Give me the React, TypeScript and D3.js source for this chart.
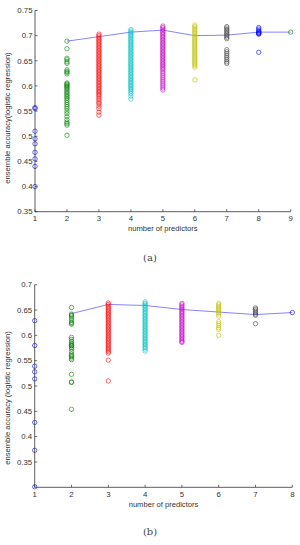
import * as d3 from "d3"

// MATLAB default colour order, reused per number of predictors
const colorOrder = ["#0000ff", "#008000", "#ff0000", "#00bfbf", "#bf00bf", "#bfbf00", "#404040"]

// ---- panel (a): 9 predictors ----
const aAcc1 = [0.557, 0.555, 0.51, 0.495, 0.485, 0.468, 0.455, 0.44, 0.4]
const aAcc2 = [
  0.689, 0.674, 0.655, 0.652, 0.648, 0.645, 0.632, 0.629, 0.627, 0.624, 0.606, 0.604, 0.602, 0.6,
  0.598, 0.596, 0.593, 0.59, 0.587, 0.584, 0.581, 0.578, 0.575, 0.571, 0.567, 0.563, 0.559, 0.555,
  0.55, 0.545, 0.539, 0.533, 0.528, 0.525, 0.522, 0.502,
]
const aAcc3 = [
  0.703, 0.7, 0.697, 0.694, 0.691, 0.688, 0.685, 0.682, 0.679, 0.676, 0.673, 0.67, 0.667, 0.664,
  0.661, 0.658, 0.655, 0.652, 0.649, 0.646, 0.643, 0.64, 0.637, 0.634, 0.631, 0.628, 0.625, 0.622,
  0.619, 0.616, 0.613, 0.61, 0.607, 0.604, 0.601, 0.598, 0.595, 0.592, 0.589, 0.586, 0.583, 0.58,
  0.576, 0.572, 0.568, 0.565, 0.56, 0.555, 0.548, 0.542,
]
const aAcc4 = [
  0.712, 0.709, 0.706, 0.703, 0.7, 0.697, 0.694, 0.691, 0.688, 0.685, 0.682, 0.679, 0.676, 0.673,
  0.67, 0.667, 0.664, 0.661, 0.658, 0.655, 0.652, 0.649, 0.646, 0.643, 0.64, 0.637, 0.634, 0.631,
  0.628, 0.625, 0.622, 0.619, 0.616, 0.613, 0.61, 0.607, 0.604, 0.601, 0.598, 0.595, 0.592, 0.589,
  0.585, 0.58, 0.574,
]
const aAcc5 = [
  0.719, 0.716, 0.713, 0.71, 0.707, 0.704, 0.701, 0.698, 0.695, 0.692, 0.689, 0.686, 0.683, 0.68,
  0.677, 0.674, 0.671, 0.668, 0.665, 0.662, 0.659, 0.656, 0.653, 0.65, 0.647, 0.644, 0.641, 0.638,
  0.635, 0.632, 0.628, 0.624, 0.62, 0.616, 0.612, 0.608, 0.604, 0.6, 0.596, 0.592,
]
const aAcc6 = [
  0.721, 0.718, 0.715, 0.712, 0.709, 0.706, 0.703, 0.7, 0.697, 0.694, 0.691, 0.688, 0.685, 0.682,
  0.679, 0.676, 0.673, 0.67, 0.667, 0.664, 0.661, 0.658, 0.655, 0.652, 0.649, 0.646, 0.643, 0.64,
  0.637, 0.612,
]
const aAcc7 = [
  0.718, 0.715, 0.712, 0.709, 0.706, 0.703, 0.7, 0.697, 0.694, 0.672, 0.668, 0.664, 0.66, 0.656,
  0.652, 0.648, 0.645,
]
const aAcc8 = [0.716, 0.713, 0.71, 0.708, 0.706, 0.705, 0.704, 0.703, 0.667]
const aAcc9 = [0.707]
const aBest = [0.689, 0.698, 0.707, 0.711, 0.7, 0.701, 0.707, 0.707] // k = 2..9

// ---- panel (b): 8 predictors ----
const bAcc1 = [0.629, 0.58, 0.539, 0.528, 0.514, 0.428, 0.373, 0.301]
const bAcc2 = [
  0.655, 0.642, 0.64, 0.638, 0.634, 0.63, 0.626, 0.624, 0.622, 0.596, 0.592, 0.588, 0.585, 0.582,
  0.58, 0.579, 0.576, 0.573, 0.568, 0.563, 0.56, 0.558, 0.555, 0.552, 0.523, 0.508, 0.507, 0.454,
]
const bAcc3 = [
  0.664, 0.661, 0.658, 0.655, 0.652, 0.649, 0.646, 0.643, 0.64, 0.637, 0.634, 0.631, 0.628, 0.625,
  0.622, 0.619, 0.616, 0.613, 0.61, 0.607, 0.604, 0.601, 0.598, 0.595, 0.592, 0.589, 0.586, 0.583,
  0.58, 0.577, 0.574, 0.571, 0.568, 0.565, 0.551, 0.51,
]
const bAcc4 = [
  0.666, 0.663, 0.66, 0.657, 0.654, 0.651, 0.648, 0.645, 0.642, 0.639, 0.636, 0.633, 0.63, 0.627,
  0.624, 0.621, 0.618, 0.615, 0.612, 0.609, 0.606, 0.603, 0.6, 0.597, 0.594, 0.591, 0.588, 0.585,
  0.582, 0.579, 0.576, 0.573, 0.569,
]
const bAcc5 = [
  0.663, 0.66, 0.657, 0.654, 0.651, 0.648, 0.645, 0.642, 0.639, 0.636, 0.633, 0.63, 0.627, 0.624,
  0.621, 0.618, 0.615, 0.612, 0.609, 0.606, 0.603, 0.6, 0.597, 0.594, 0.591, 0.588, 0.586,
]
const bAcc6 = [
  0.663, 0.66, 0.657, 0.654, 0.651, 0.648, 0.645, 0.642, 0.638, 0.627, 0.623, 0.619, 0.615, 0.612,
  0.6,
]
const bAcc7 = [0.654, 0.651, 0.648, 0.645, 0.642, 0.64, 0.623]
const bAcc8 = [0.645]
const bBest = [0.643, 0.661, 0.659, 0.651, 0.646, 0.641, 0.645] // k = 2..8

const yTicksA = [0.35, 0.4, 0.45, 0.5, 0.55, 0.6, 0.65, 0.7, 0.75]
const yTicksB = [0.35, 0.4, 0.45, 0.5, 0.55, 0.6, 0.65, 0.7]

const font = "'Liberation Sans', Arial, sans-serif"
const axisColor = "#333"

type PanelProps = {
  groups: number[][]
  best: number[]
  xMax: number
  yDomain: [number, number]
  yTicks: number[]
  xRange: [number, number]
  yRange: [number, number]
  yLabel: string
  yLabelCenter: number
  xLabelY: number
  caption: string
  captionY: number
}

function Panel(p: PanelProps) {
  const x = d3.scaleLinear().domain([1, p.xMax]).range(p.xRange)
  const y = d3.scaleLinear().domain(p.yDomain).range(p.yRange)
  const xTicks = d3.range(1, p.xMax + 1)
  const line = d3
    .line<number>()
    .x((_, i) => x(i + 2))
    .y((d) => y(d))
  const [y0, y1] = p.yRange
  const [x0, x1] = p.xRange

  return (
    <g>
      {/* best-ensemble line */}
      <path d={line(p.best) || ""} fill="none" stroke="#3030ff" strokeWidth={0.7} strokeOpacity={0.85} />

      {/* scatter of all ensembles */}
      {p.groups.map((vals, gi) =>
        vals.map((v, i) => (
          <circle
            key={gi + "-" + i}
            cx={x(gi + 1)}
            cy={y(v)}
            r={2.2}
            fill="none"
            stroke={colorOrder[gi % colorOrder.length]}
            strokeWidth={0.6}
          />
        )),
      )}

      {/* axes */}
      <line x1={x0} x2={x0} y1={y0} y2={y(p.yDomain[1])} stroke={axisColor} strokeWidth={0.8} />
      <line x1={x0} x2={x1} y1={y0} y2={y0} stroke={axisColor} strokeWidth={0.8} />
      {p.yTicks.map((t) => (
        <g key={"y" + t}>
          <line x1={x0} x2={x0 + 2.5} y1={y(t)} y2={y(t)} stroke={axisColor} strokeWidth={0.7} />
          <text
            x={x0 - 2.5}
            y={y(t)}
            dy="0.35em"
            textAnchor="end"
            fontSize={7.8}
            fontFamily={font}
            fill="#333"
          >
            {t}
          </text>
        </g>
      ))}
      {xTicks.map((t) => (
        <g key={"x" + t}>
          <line x1={x(t)} x2={x(t)} y1={y0} y2={y0 - 2.5} stroke={axisColor} strokeWidth={0.7} />
          <text x={x(t)} y={y0 + 7} dy="0.35em" textAnchor="middle" fontSize={7.8} fontFamily={font} fill="#333">
            {t}
          </text>
        </g>
      ))}

      <text x={(x0 + x1) / 2} y={p.xLabelY} dy="0.35em" textAnchor="middle" fontSize={7.6} fontFamily={font} fill="#333">
        number of predictors
      </text>
      <text
        transform={`translate(7.5, ${p.yLabelCenter}) rotate(-90)`}
        dy="0.35em"
        textAnchor="middle"
        fontSize={7.6}
        fontFamily={font}
        fill="#333"
      >
        {p.yLabel}
      </text>
      <text x={150} y={p.captionY} dy="0.35em" textAnchor="middle" fontSize={10} fontFamily="'DejaVu Serif', 'Liberation Serif', serif" fill="#444">
        {p.caption}
      </text>
    </g>
  )
}

export default function App() {
  return (
    <svg
      width={300}
      height={545}
      style={{ position: "absolute", left: 0, top: 0, background: "#fff" }}
    >
      <Panel
        groups={[aAcc1, aAcc2, aAcc3, aAcc4, aAcc5, aAcc6, aAcc7, aAcc8, aAcc9]}
        best={aBest}
        xMax={9}
        yDomain={[0.35, 0.75]}
        yTicks={yTicksA}
        xRange={[35, 290.7]}
        yRange={[211.7, 10.5]}
        yLabel="ensemble accuracy(logistic regression)"
        yLabelCenter={118}
        xLabelY={228.5}
        caption="(a)"
        captionY={257}
      />
      <Panel
        groups={[bAcc1, bAcc2, bAcc3, bAcc4, bAcc5, bAcc6, bAcc7, bAcc8]}
        best={bBest}
        xMax={8}
        yDomain={[0.3, 0.7]}
        yTicks={yTicksB}
        xRange={[34.7, 292.3]}
        yRange={[487.3, 284.7]}
        yLabel="ensemble accuracy (logistic regression)"
        yLabelCenter={398}
        xLabelY={504}
        caption="(b)"
        captionY={531}
      />
    </svg>
  )
}
